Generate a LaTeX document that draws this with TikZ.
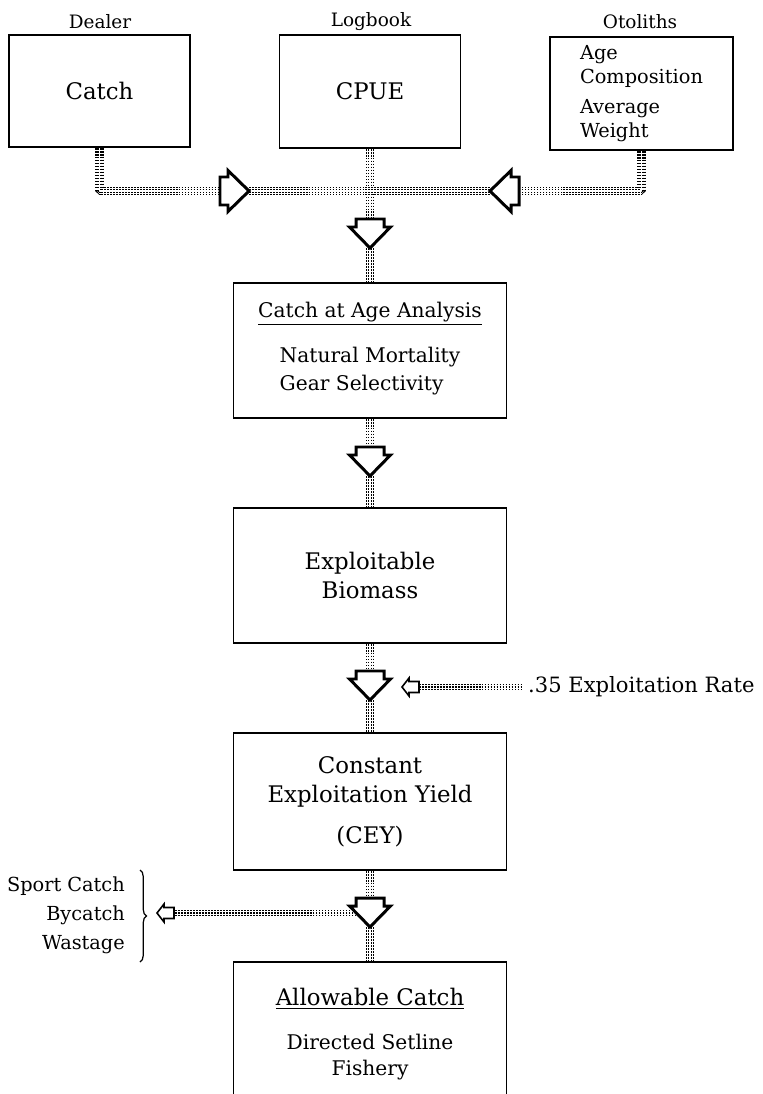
\documentclass[tikz,border=0pt]{standalone}
\usepackage{fontspec}
\setmainfont{DejaVu Serif}
\usepackage{tikz}
\usetikzlibrary{positioning,calc,decorations.pathreplacing}
\pgfdeclarelayer{bg}
\pgfsetlayers{bg,main}

\tikzset{
  box/.style={draw, line width=0.9pt, fill=white, inner sep=0pt},
  bigtxt/.style={font=\fontsize{13}{17}\selectfont},
  midtxt/.style={font=\fontsize{11.5}{16}\selectfont},
  smalltxt/.style={font=\fontsize{10.5}{16.5}\selectfont},
  % dotted bands: dashes cut into rows by white strokes
  dotband/.style={line width=5.1pt, line join=bevel, dash pattern=on 1pt off 0.7pt,
    postaction={draw=white, solid, line width=3.4pt},
    postaction={draw=black, line width=2.56pt, dash pattern=on 1pt off 0.7pt},
    postaction={draw=white, solid, line width=0.8pt}},
  thinband/.style={line width=3.4pt, dash pattern=on 1pt off 0.7pt,
    postaction={draw=white, solid, line width=1.8pt},
    postaction={draw=black, line width=0.8pt, dash pattern=on 1pt off 0.7pt}},
  bigarrow/.pic={
    \draw[line width=1.7pt, fill=white] (0,0) -- (-21,-20.5) -- (-21,-14) -- (-29,-14)
      -- (-29,14) -- (-21,14) -- (-21,20.5) -- cycle;
    \coordinate (-tip) at (0,0);
    \coordinate (-tail) at (-29,0);
    \coordinate (-side) at (-14,13.7);
  },
  smallarrow/.pic={
    \draw[line width=0.9pt, fill=white] (0,0) -- (-7,-9) -- (-7,-5.5) -- (-17,-5.5)
      -- (-17,5.5) -- (-7,5.5) -- (-7,9) -- cycle;
    \coordinate (-tip) at (0,0);
    \coordinate (-tail) at (-17,0);
  }
}

\begin{document}
\begin{tikzpicture}[x=0.02cm, y=-0.02cm]
    \useasboundingbox (0,0) rectangle (763,1094);

    % Data sources
    \node[smalltxt] (dealer) at (100,22) {Dealer};
    \node[smalltxt] (logbook) at (371,22) {Logbook};
    \node[smalltxt] (otoliths) at (640,22) {Otoliths};
    \node[box, bigtxt, minimum width=3.62cm, minimum height=2.24cm] (catch) at (99.5,91) {Catch};
    \node[box, bigtxt, minimum width=3.62cm, minimum height=2.26cm] (cpue) at (370,91.5) {CPUE};
    \node[box, align=left, font=\fontsize{11}{13.5}\selectfont, minimum width=3.66cm, minimum height=2.26cm] (otol) at (641.5,93.5)
        {Age\\Composition\\[4pt]Average\\Weight};

    % Main chain
    \node[box, align=center, midtxt, minimum width=5.46cm, minimum height=2.70cm] (caa) at (370,350.5)
        {\underline{Catch at Age Analysis}\\[10pt]\begin{tabular}[t]{@{}l@{}}Natural Mortality\\Gear Selectivity\end{tabular}};
    \node[box, align=center, bigtxt, minimum width=5.46cm, minimum height=2.70cm] (expl) at (370,575.5)
        {Exploitable\\Biomass};
    \node[box, align=center, bigtxt, minimum width=5.46cm, minimum height=2.74cm] (cey) at (370,801.5)
        {Constant\\Exploitation Yield\\[6pt](CEY)};
    \node[box, align=center, font=\fontsize{11.5}{15}\selectfont, minimum width=5.46cm, minimum height=2.88cm] (allow) at (370,1034)
        {{\fontsize{13}{17}\selectfont\underline{Allowable Catch}}\\[10pt]Directed Setline\\Fishery};

    % Side inputs
    \node[anchor=west, font=\fontsize{12}{16}\selectfont] (rate) at (522,687) {.35 Exploitation Rate};
    \node[anchor=east, align=right, font=\fontsize{11}{16.5}\selectfont] (other) at (131,915)
        {Sport Catch\\Bycatch\\Wastage};
    \draw[decorate, decoration={brace, amplitude=0.13cm}, line width=0.7pt] (140,870) -- (140,962);

    % Block arrows
    \pic (arR) at (249,191) {bigarrow};
    \pic[rotate=180] (arL) at (490,191) {bigarrow};
    \pic[rotate=-90] (arA) at (370,248) {bigarrow};
    \pic[rotate=-90] (arB) at (370,476) {bigarrow};
    \pic[rotate=-90] (arC) at (370,700) {bigarrow};
    \pic[rotate=-90] (arD) at (370,927) {bigarrow};
    \pic[rotate=180] (arE) at (402,687) {smallarrow};
    \pic[rotate=180] (arF) at (157,913) {smallarrow};

    % Dotted connectors
    \begin{pgfonlayer}{bg}
        \draw[dotband] (cpue.south) -- (arA-tail);
        \draw[dotband] (catch.south) |- (arR-tail);
        \draw[dotband] (otol.south) |- (arL-tail);
        \draw[dotband] (arR-tip) -- (arL-tip);
        \draw[dotband] (arA-tip) -- (caa.north);
        \draw[dotband] (caa.south) -- (arB-tail);
        \draw[dotband] (arB-tip) -- (expl.north);
        \draw[dotband] (expl.south) -- (arC-tail);
        \draw[dotband] (arC-tip) -- (cey.north);
        \draw[dotband] (cey.south) -- (arD-tail);
        \draw[dotband] (arD-tip) -- (allow.north);
        \draw[thinband] (arE-tail) -- (rate.west);
        \draw[thinband] (arD-side) -- (arF-tail);
    \end{pgfonlayer}
\end{tikzpicture}
\end{document}
